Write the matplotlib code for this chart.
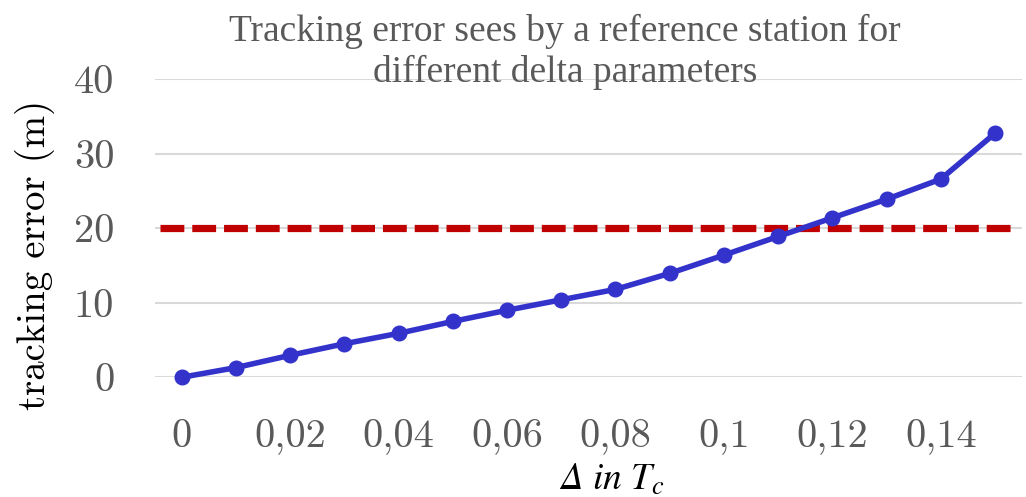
import numpy as np
import matplotlib.pyplot as plt

# data
delta = [0, 0.01, 0.02, 0.03, 0.04, 0.05, 0.06, 0.07, 0.08, 0.09,
         0.10, 0.11, 0.12, 0.13, 0.14, 0.15]
tracking_error = [0, 1.3, 2.95, 4.5, 5.9, 7.5, 9.0, 10.4, 11.8, 13.95,
                  16.4, 18.9, 21.4, 23.9, 26.6, 32.75]
threshold = 20
xtick_labels = ["0", "0,02", "0,04", "0,06", "0,08", "0,1", "0,12", "0,14"]
yticks = [0, 10, 20, 30, 40]

# italic greek for the x label
plt.rcParams['mathtext.fontset'] = 'custom'
plt.rcParams['mathtext.rm'] = 'STIXGeneral:italic'
plt.rcParams['mathtext.it'] = 'STIXGeneral:italic'

fig = plt.figure(figsize=(10.26, 4.97), dpi=100)
ax = fig.add_axes([154.6 / 1026, 1 - 377.3 / 497, 867.5 / 1026, 298 / 497])

pos = np.arange(len(delta))
ax.plot(pos, tracking_error, color='#3333CC', lw=4.0, marker='o', ms=10.5,
        solid_joinstyle='round', zorder=3, clip_on=False)
ax.axhline(threshold, xmin=0.006, xmax=0.988, color='#C00000', lw=5.2,
           dashes=(3.3, 1.1), dash_capstyle='butt', zorder=2)

ax.set_xlim(-0.5, len(delta) - 0.5)
ax.set_ylim(0, 40)
ax.set_yticks(yticks)
ax.set_yticklabels([str(v) for v in yticks], family='cmr10', fontsize=29, color='#595959')
ax.set_xticks(pos[::2])
ax.set_xticklabels(xtick_labels, family='cmr10', fontsize=29, color='#595959')
ax.tick_params(length=0)
ax.tick_params(axis='x', pad=30)
ax.tick_params(axis='y', pad=29)

ax.grid(axis='y', color='#D9D9D9', lw=1.5)
ax.set_axisbelow(True)
for s in ax.spines.values():
    s.set_visible(False)

fig.text(35 / 1026, 1 - 255 / 497, "tracking error (m)", family='cmr10', fontsize=28,
         rotation=90, ha='center', va='center', color='black')
fig.text(612 / 1026, 1 - 490 / 497, r"$\Delta\ in\ T_c$", fontsize=27,
         ha='center', va='baseline', color='black')
fig.text(565 / 1026, 1 - 82 / 497,
         "Tracking error sees by a reference station for\ndifferent delta parameters",
         family='Liberation Serif', fontsize=27, color='#595959', ha='center', va='baseline',
         multialignment='center', linespacing=1.22)

fig.savefig("out.png", dpi=100)
